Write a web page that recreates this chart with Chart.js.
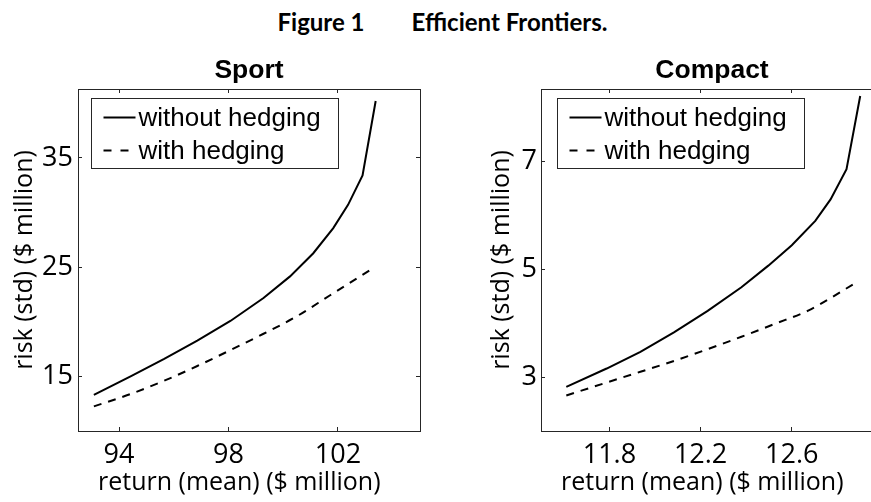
<!DOCTYPE html>
<html>
<head>
<meta charset="utf-8">
<script src="https://cdn.jsdelivr.net/npm/chart.js@4.4.1/dist/chart.umd.min.js"></script>
<style>
  html, body { margin: 0; padding: 0; background: #fff; overflow: hidden; width: 871px; height: 502px; }
  #figTitle { position: absolute; left: 7px; width: 871px; top: 10px; text-align: center; line-height: 1;
              font-family: Lato, sans-serif; font-weight: bold; font-size: 24px; color: #000; white-space: pre; }
  .box { position: absolute; top: 0; height: 502px; }
</style>
</head>
<body>
<div id="figTitle"><span>Figure 1</span><span style="margin-left:47px">Efficient Frontiers.</span></div>
<div class="box" style="left:0;width:440px"><canvas id="sportChart"></canvas></div>
<div class="box" style="left:440px;width:460px"><canvas id="compactChart"></canvas></div>
<script>
// Sport: frontier without / with hedging (return, risk in $ million)
const sportNoHedgeReturn = [93.08, 94.44, 95.65, 96.86, 98.07, 99.28, 100.25, 101.1, 101.83, 102.37, 102.9, 103.38];
const sportNoHedgeRisk   = [13.3, 15.02, 16.6, 18.27, 20.07, 22.17, 24.15, 26.27, 28.57, 30.7, 33.4, 40.2];
const sportHedgeReturn   = [93.08, 94.44, 95.65, 96.86, 98.07, 99.28, 100.5, 101.7, 103.16];
const sportHedgeRisk     = [12.25, 13.4, 14.6, 15.95, 17.4, 18.9, 20.5, 22.4, 24.7];

// Compact
const compactNoHedgeReturn = [11.611, 11.788, 11.936, 12.083, 12.231, 12.379, 12.497, 12.60, 12.703, 12.77, 12.84, 12.90];
const compactNoHedgeRisk   = [2.82, 3.16, 3.47, 3.83, 4.23, 4.67, 5.07, 5.45, 5.9, 6.3, 6.86, 8.22];
const compactHedgeReturn   = [11.611, 11.788, 11.936, 12.083, 12.231, 12.379, 12.526, 12.674, 12.88];
const compactHedgeRisk     = [2.66, 2.90, 3.10, 3.30, 3.52, 3.75, 3.99, 4.24, 4.75];

const sportXTicks = [94, 98, 102];
const sportYTicks = [15, 25, 35];
const compactXTicks = [11.8, 12.2, 12.6];
const compactYTicks = [3, 5, 7];

const seriesLabels = ['without hedging', 'with hedging'];
const xLabel = 'return (mean) ($ million)   ';
const yLabel = 'risk (std) ($ million)';

const axisColor = '#262626';
const tickFont = { family: '"Open Sans", sans-serif', size: 27, lineHeight: 1 };
const labelFont = { family: '"Open Sans", sans-serif', size: 25, lineHeight: 1 };

function toPoints(xs, ys) {
    return xs.map((x, i) => ({ x: x, y: ys[i] }));
}

// boxed legend in the upper left of the plot area, like matlab's
const legendBoxPlugin = {
    id: 'legendBox',
    afterDraw(chart, args, opts) {
        const ctx = chart.ctx;
        const area = chart.chartArea;
        const left = Math.round(area.left + opts.dx) + 0.5;
        const top = Math.round(area.top + opts.dy) + 0.5;
        ctx.save();
        ctx.fillStyle = '#fff';
        ctx.fillRect(left, top, opts.width, opts.height);
        ctx.strokeStyle = axisColor;
        ctx.lineWidth = 1;
        ctx.strokeRect(left, top, opts.width, opts.height);
        chart.data.datasets.forEach((ds, i) => {
            const y = top + opts.rowY[i];
            ctx.beginPath();
            ctx.setLineDash(ds.borderDash ? [8, 9] : []);
            ctx.lineWidth = ds.borderWidth;
            ctx.strokeStyle = ds.borderColor;
            ctx.moveTo(left + 12, y);
            ctx.lineTo(left + 44, y);
            ctx.stroke();
            ctx.setLineDash([]);
            ctx.fillStyle = '#000';
            ctx.font = '26px "Liberation Sans", Arial, sans-serif';
            ctx.textBaseline = 'middle';
            ctx.fillText(ds.label, left + 47, y + 1);
        });
        ctx.restore();
    }
};

function makeChart(id, cfg) {
    const grid = { drawOnChartArea: false, tickLength: -4, color: axisColor, lineWidth: 1 };
    const border = { color: axisColor, width: 1 };
    return new Chart(document.getElementById(id), {
        type: 'line',
        data: {
            datasets: [
                { label: seriesLabels[0], data: toPoints(cfg.x1, cfg.y1), xAxisID: 'x', yAxisID: 'y',
                  borderColor: '#000', borderWidth: 2, pointRadius: 0, tension: 0, fill: false },
                { label: seriesLabels[1], data: toPoints(cfg.x2, cfg.y2), xAxisID: 'x', yAxisID: 'y',
                  borderColor: '#000', borderWidth: 2, borderDash: [8, 7], pointRadius: 0, cubicInterpolationMode: 'monotone', fill: false }
            ]
        },
        options: {
            responsive: true,
            maintainAspectRatio: false,
            animation: false,
            layout: { padding: { top: 50, right: cfg.padRight, left: 0, bottom: 0 } },
            plugins: {
                legend: { display: false },
                tooltip: { enabled: false },
                title: {
                    display: true, text: cfg.title, color: '#000', fullSize: false,
                    font: { family: '"Liberation Sans", Arial, sans-serif', size: 26.5, weight: 'bold', lineHeight: 1 },
                    padding: { top: 7.75, bottom: 4.75 }
                },
                legendBox: { dx: cfg.legendDx, dy: 9, width: 247, height: 70, rowY: [19, 52] }
            },
            scales: {
                x: {
                    type: 'linear', position: 'bottom', min: cfg.xMin, max: cfg.xMax,
                    afterBuildTicks: s => { s.ticks = cfg.xTicks.map(v => ({ value: v })); },
                    afterFit: s => { s.height = 71; },
                    ticks: { font: tickFont, color: '#000', padding: 15, maxRotation: 0, callback: v => String(v) },
                    grid: grid, border: border,
                    title: { display: true, text: xLabel, color: '#000', font: labelFont, padding: { top: 0, bottom: 6.2 } }
                },
                x2: {
                    type: 'linear', position: 'top', min: cfg.xMin, max: cfg.xMax,
                    afterBuildTicks: s => { s.ticks = cfg.xTicks.map(v => ({ value: v })); },
                    afterFit: s => { s.height = 0; },
                    ticks: { display: false }, grid: grid, border: border
                },
                y: {
                    type: 'linear', position: 'left', min: cfg.yMin, max: cfg.yMax,
                    afterBuildTicks: s => { s.ticks = cfg.yTicks.map(v => ({ value: v })); },
                    afterFit: s => { s.width = cfg.yAxisWidth; },
                    ticks: { font: tickFont, color: '#000', padding: cfg.yTickPad, callback: v => String(v) },
                    grid: grid, border: border,
                    title: { display: true, text: yLabel, color: '#000', font: labelFont, padding: { top: cfg.yTitlePad, bottom: 0 } }
                },
                y2: {
                    type: 'linear', position: 'right', min: cfg.yMin, max: cfg.yMax,
                    afterBuildTicks: s => { s.ticks = cfg.yTicks.map(v => ({ value: v })); },
                    afterFit: s => { s.width = 0; },
                    ticks: { display: false }, grid: grid, border: border
                }
            }
        },
        plugins: [legendBoxPlugin]
    });
}

makeChart('sportChart', {
    title: 'Sport',
    x1: sportNoHedgeReturn, y1: sportNoHedgeRisk,
    x2: sportHedgeReturn, y2: sportHedgeRisk,
    xMin: 92.5, xMax: 105, yMin: 10, yMax: 41.3,
    xTicks: sportXTicks, yTicks: sportYTicks,
    yAxisWidth: 78, yTickPad: 9, yTitlePad: 12.8, padRight: 20, legendDx: 13
});

makeChart('compactChart', {
    title: 'Compact',
    x1: compactNoHedgeReturn, y1: compactNoHedgeRisk,
    x2: compactHedgeReturn, y2: compactHedgeRisk,
    xMin: 11.5, xMax: 13, yMin: 2, yMax: 8.35,
    xTicks: compactXTicks, yTicks: compactYTicks,
    yAxisWidth: 101, yTickPad: 8, yTitlePad: 49.5, padRight: 17, legendDx: 16
});
</script>
</body>
</html>
